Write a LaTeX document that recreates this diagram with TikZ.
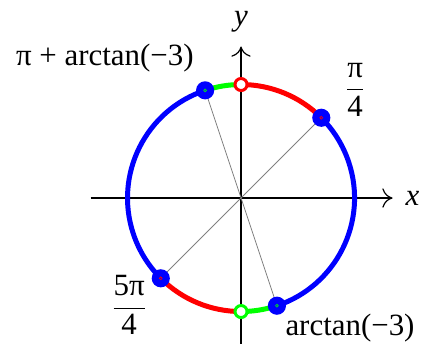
\documentclass[tikz,border=0pt]{standalone}
\usepackage{fontspec}
\setmainfont{Liberation Serif}
\usetikzlibrary{arrows.meta}

\begin{document}
\begin{tikzpicture}[
    font=\fontsize{15.5}{18}\selectfont,
    axis/.style={line width=0.6pt, -{To[length=1.8mm,width=3.4mm]}},
    radial/.style={gray, line width=0.4pt},
    arcline/.style={line width=2.5pt},
    solid dot/.style={fill=blue, draw=none},
    open dot/.style={fill=white, line width=1.5pt},
    tiny dot/.style={line width=0.3pt}
  ]
    \useasboundingbox (-4.247,-2.555) rectangle (3.171,3.489);
    % points on the circle
    \coordinate (o) at (0,0);
    \coordinate (pa) at (45:2);
    \coordinate (pb) at (225:2);
    \coordinate (pc) at (-71.565:2);
    \coordinate (pd) at (108.435:2);
    \coordinate (top) at (90:2);
    \coordinate (bot) at (270:2);
    % axes
    \coordinate (xl) at (-2.65,0);
    \coordinate (xr) at (2.67,0);
    \coordinate (yb) at (0,-2.65);
    \coordinate (yt) at (0,2.67);
    \draw[axis] (xl) -- (xr);
    \draw[axis] (yb) -- (yt);
    \node (xlab) at (3.02,0) {\textit{x}};
    \node (ylab) at (0,3.1) {\textit{y}};
    % diameters
    \draw[radial] (pa) -- (pb);
    \draw[radial] (pd) -- (pc);
    % arcs
    \draw[arcline, blue] (pc) arc[start angle=-71.565, end angle=45, radius=2];
    \draw[arcline, red] (pa) arc[start angle=45, end angle=90, radius=2];
    \draw[arcline, green] (top) arc[start angle=90, end angle=108.435, radius=2];
    \draw[arcline, blue] (pd) arc[start angle=108.435, end angle=225, radius=2];
    \draw[arcline, red] (pb) arc[start angle=225, end angle=270, radius=2];
    \draw[arcline, green] (bot) arc[start angle=270, end angle=288.435, radius=2];
    % end points
    \foreach \p/\c in {pa/red, pb/red, pc/green, pd/green} {
      \fill[solid dot] (\p) circle[radius=0.16];
      \draw[tiny dot, draw=\c] (\p) circle[radius=0.025];
    }
    \draw[open dot, draw=red] (top) circle[radius=0.106];
    \draw[open dot, draw=green] (bot) circle[radius=0.106];
    % labels
    \node (la) at (2.01,1.91) {$\displaystyle\frac{\mbox{π}}{\mbox{4}}$};
    \node (lb) at (-1.97,-1.89) {$\displaystyle\frac{\mbox{5π}}{\mbox{4}}$};
    \node (lc) at (1.92,-2.29) {arctan(−3)};
    \node (ld) at (-2.40,2.47) {π + arctan(−3)};
  \end{tikzpicture}
\end{document}
